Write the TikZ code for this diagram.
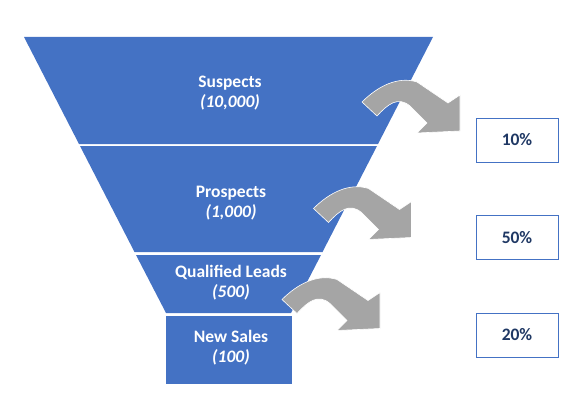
\documentclass[tikz,border=0pt]{standalone}
\usepackage{fontspec}
\setmainfont{Carlito}
\definecolor{funnelblue}{HTML}{4472C4}
\definecolor{arrowgray}{HTML}{A5A5A5}
\definecolor{navy}{HTML}{1F3864}
\tikzset{
  stage/.style={text=white, font=\bfseries\fontsize{17.5}{20}\selectfont, align=center},
  rate/.style={draw=funnelblue, line width=0.9pt, fill=white, minimum width=82pt,
    minimum height=44pt, text=navy, font=\bfseries\fontsize{17.5}{20}\selectfont}
}
\begin{document}
\begin{tikzpicture}[x=1pt,y=-1pt]
\useasboundingbox (0,0) rectangle (587,404);
% funnel bands
\fill[funnelblue] (24,37) -- (433,37) -- (378,144) -- (79,144) -- cycle;
\fill[funnelblue] (80,146) -- (377,146) -- (322.5,252) -- (134.5,252) -- cycle;
\fill[funnelblue] (136,255) -- (321,255) -- (291,313) -- (166,313) -- cycle;
\fill[funnelblue] (166,316) rectangle (292,384);
% curved arrows
\foreach \dx/\dy in {0/0,-48.5/106.5,-80/197.5}{
	\filldraw[fill=arrowgray, draw=white, line width=0.6pt, shift={(\dx,\dy)}]
	  (362,102) .. controls (378,86) and (398,76) .. (417,82) -- (448,103)
	  -- (460,95) -- (460,131) -- (417,133) -- (427,123) -- (410,106)
	  .. controls (398,96) and (388,104) .. (377,116) -- cycle;
}
\node[stage] (suspects) at (230,93) {Suspects\\\textit{(10,000)}};
\node[stage] (prospects) at (231,203) {Prospects\\\textit{(1,000)}};
\node[stage] (leads) at (231,283) {Qualified Leads\\\textit{(500)}};
\node[stage] (sales) at (231,348) {New Sales\\\textit{(100)}};
\node[rate] (rate1) at (517,140) {10\%};
\node[rate] (rate2) at (517,237.5) {50\%};
\node[rate] (rate3) at (517,335) {20\%};
\end{tikzpicture}
\end{document}
